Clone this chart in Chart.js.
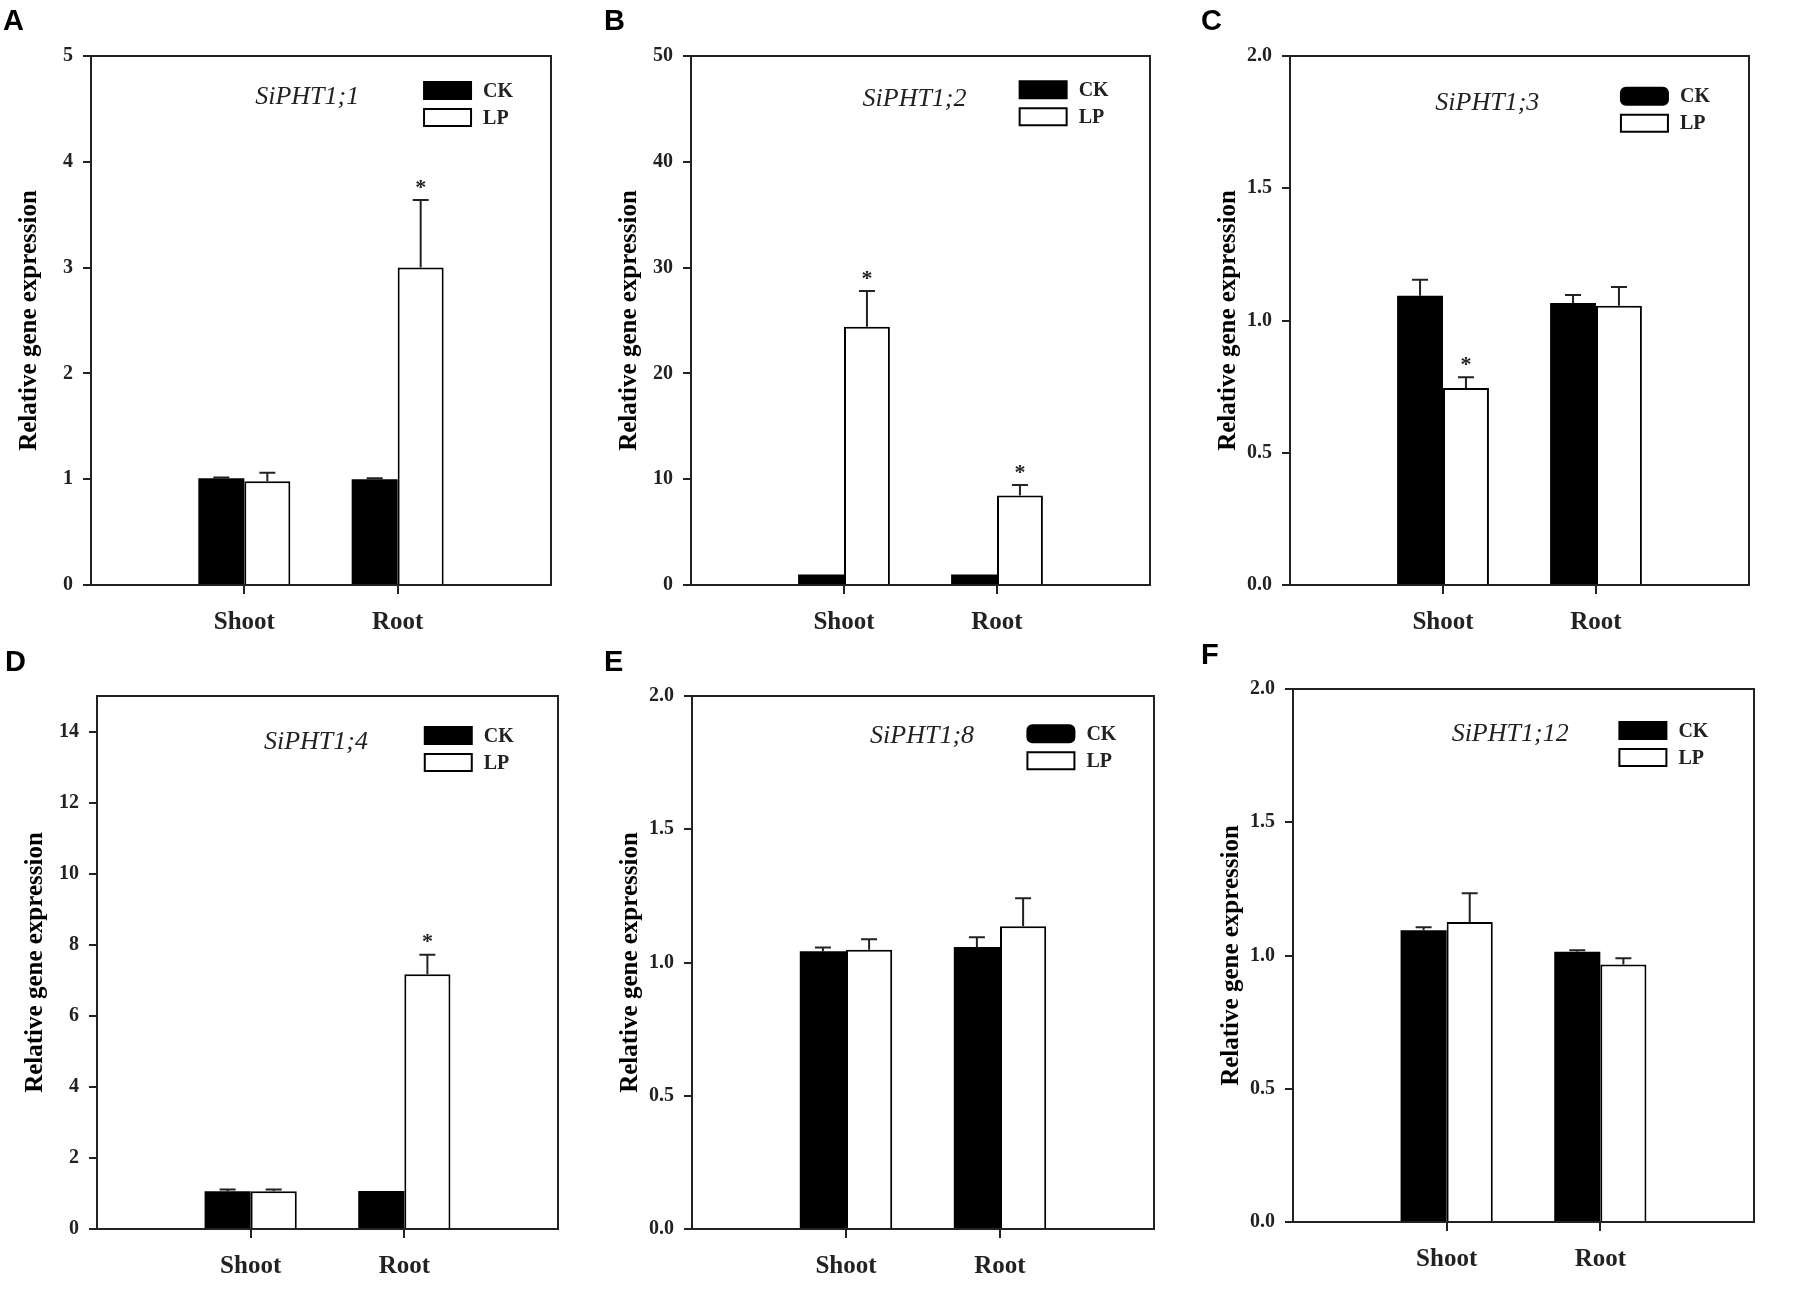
<!DOCTYPE html>
<html>
<head>
<meta charset="utf-8">
<script src="https://cdn.jsdelivr.net/npm/chart.js@4.4.1/dist/chart.umd.min.js"></script>
<style>
    html, body { margin: 0; padding: 0; background: #fff; }
    body { width: 1805px; height: 1308px; position: relative; overflow: hidden; }
    .panel { position: absolute; }
    .letter { position: absolute; font: bold 29px "Liberation Sans", Arial, sans-serif; color: #000; line-height: 1; z-index: 2; }
</style>
</head>
<body>
<script>
// DATA
const categories = ["Shoot", "Root"];
const seriesNames = ["CK", "LP"];
const panelLetters = ["A", "B", "C", "D", "E", "F"];
const geneNames = ["SiPHT1;1", "SiPHT1;2", "SiPHT1;3", "SiPHT1;4", "SiPHT1;8", "SiPHT1;12"];
const yAxisTitle = "Relative gene expression";

// [shoot, root] per panel
const ckMeans = [[1.01, 1.0], [1.0, 1.0], [1.094, 1.066], [1.06, 1.07], [1.042, 1.058], [1.095, 1.014]];
const ckErrors = [[0.005, 0.01], [0, 0], [0.06, 0.03], [0.05, 0], [0.014, 0.037], [0.011, 0.006]];
const lpMeans = [[0.98, 3.0], [24.4, 8.45], [0.745, 1.056], [1.06, 7.17], [1.048, 1.136], [1.126, 0.966]];
const lpErrors = [[0.08, 0.64], [3.4, 1.0], [0.04, 0.071], [0.05, 0.55], [0.039, 0.105], [0.108, 0.024]];
const lpStars = [[false, true], [true, true], [true, false], [false, true], [false, false], [false, false]];

const yMax = [5, 50, 2, 15, 2, 2];
const yTicks = [
    [0, 1, 2, 3, 4, 5],
    [0, 10, 20, 30, 40, 50],
    [0, 0.5, 1, 1.5, 2],
    [0, 2, 4, 6, 8, 10, 12, 14],
    [0, 0.5, 1, 1.5, 2],
    [0, 0.5, 1, 1.5, 2],
];
const yDecimals = [0, 0, 1, 0, 1, 1];
// DATA

// LAYOUT (plot boxes in page pixels)
const boxes = [
    { l: 91, t: 48, w: 462, h: 537 },
    { l: 691, t: 48, w: 461, h: 537 },
    { l: 1290, t: 48, w: 461, h: 537 },
    { l: 97, t: 688, w: 463, h: 541 },
    { l: 692, t: 688, w: 464, h: 541 },
    { l: 1293, t: 681, w: 463, h: 541 },
];
const letterPos = [[3, 6], [604, 6], [1201, 6], [5, 647], [604, 647], [1201, 640]];
const titleX = [0.47, 0.487, 0.43, 0.475, 0.498, 0.471];
const titleY = [0.077, 0.082, 0.089, 0.086, 0.076, 0.085];
const legendX = [0.724, 0.716, 0.721, 0.711, 0.726, 0.708];
const legendY = [0.065, 0.064, 0.076, 0.074, 0.071, 0.078];
const roundSwatch = [false, false, true, false, true, false];

const Y_AXIS_W = 76;
const X_AXIS_H = 78;
const PAD_TOP = 14;
const PAD_RIGHT = 12;
const INK = "#222";
const SERIF = "'Liberation Serif', 'Times New Roman', serif";

// FRAME, ERROR BARS, TITLE AND LEGEND
const decorPlugin = {
    id: "decor",
    afterDatasetsDraw(chart) {
        const ctx = chart.ctx;
        const yScale = chart.scales.y;
        ctx.save();
        ctx.strokeStyle = INK;
        ctx.fillStyle = INK;
        ctx.lineWidth = 2;
        chart.data.datasets.forEach(function (ds, di) {
            const meta = chart.getDatasetMeta(di);
            meta.data.forEach(function (bar, j) {
                if (ds.data[j] == null || !ds.errors[j]) return;
                const yEnd = yScale.getPixelForValue(ds.data[j] + ds.errors[j]);
                ctx.beginPath();
                ctx.moveTo(bar.x, bar.y);
                ctx.lineTo(bar.x, yEnd);
                ctx.moveTo(bar.x - 8, yEnd);
                ctx.lineTo(bar.x + 8, yEnd);
                ctx.stroke();
                if (ds.stars && ds.stars[j]) {
                    ctx.font = "bold 22px " + SERIF;
                    ctx.textAlign = "center";
                    ctx.textBaseline = "middle";
                    ctx.fillText("*", bar.x, yEnd - 12);
                }
            });
        });
        ctx.restore();
    },
    afterDraw(chart) {
        const ctx = chart.ctx;
        const a = chart.chartArea;
        const i = chart.options.panelIndex;
        const w = a.right - a.left;
        const h = a.bottom - a.top;
        ctx.save();
        ctx.strokeStyle = INK;
        ctx.lineWidth = 2;
        ctx.strokeRect(a.left, a.top, w, h);

        // gene name
        ctx.fillStyle = INK;
        ctx.font = "italic 26px " + SERIF;
        ctx.textAlign = "center";
        ctx.textBaseline = "middle";
        ctx.fillText(geneNames[i], a.left + titleX[i] * w, a.top + titleY[i] * h);

        // legend
        const sx = a.left + legendX[i] * w;
        const sw = 47, sh = 17;
        seriesNames.forEach(function (name, k) {
            const cy = a.top + legendY[i] * h + k * 27;
            ctx.beginPath();
            if (roundSwatch[i] && k === 0) {
                ctx.roundRect(sx, cy - sh / 2, sw, sh, 5);
            } else {
                ctx.rect(sx, cy - sh / 2, sw, sh);
            }
            ctx.fillStyle = k === 0 ? "#000" : "#fff";
            ctx.fill();
            ctx.strokeStyle = "#000";
            ctx.lineWidth = 2;
            ctx.stroke();
            ctx.fillStyle = INK;
            ctx.font = "bold 20px " + SERIF;
            ctx.textAlign = "left";
            ctx.textBaseline = "middle";
            ctx.fillText(name, sx + sw + 12, cy + 1);
        });
        ctx.restore();
    },
};

function padRow(row) {
    return [null].concat(row, [null]);
}

function makePanel(i) {
    const box = boxes[i];
    const wrap = document.createElement("div");
    wrap.className = "panel";
    wrap.style.left = box.l - Y_AXIS_W + "px";
    wrap.style.top = box.t - PAD_TOP + "px";
    wrap.style.width = Y_AXIS_W + box.w + PAD_RIGHT + "px";
    wrap.style.height = PAD_TOP + box.h + X_AXIS_H + "px";
    const canvas = document.createElement("canvas");
    wrap.appendChild(canvas);
    document.body.appendChild(wrap);

    const letter = document.createElement("div");
    letter.className = "letter";
    letter.textContent = panelLetters[i];
    letter.style.left = letterPos[i][0] + "px";
    letter.style.top = letterPos[i][1] + "px";
    document.body.appendChild(letter);

    new Chart(canvas, {
        type: "bar",
        data: {
            labels: [""].concat(categories, [""]),
            datasets: [
                {
                    label: seriesNames[0],
                    data: padRow(ckMeans[i]),
                    errors: padRow(ckErrors[i]),
                    backgroundColor: "#000",
                    borderColor: "#000",
                    borderWidth: 0,
                },
                {
                    label: seriesNames[1],
                    data: padRow(lpMeans[i]),
                    errors: padRow(lpErrors[i]),
                    stars: padRow(lpStars[i]),
                    backgroundColor: "#fff",
                    borderColor: "#000",
                    borderWidth: 2,
                },
            ],
        },
        options: {
            panelIndex: i,
            responsive: true,
            maintainAspectRatio: false,
            animation: false,
            devicePixelRatio: 1,
            layout: { padding: { top: PAD_TOP, right: PAD_RIGHT, left: 0, bottom: 0 } },
            datasets: { bar: { barPercentage: 1, categoryPercentage: 0.6 } },
            plugins: { legend: { display: false }, tooltip: { enabled: false } },
            scales: {
                x: {
                    offset: false,
                    border: { display: false },
                    grid: {
                        offset: false,
                        drawOnChartArea: false,
                        drawTicks: true,
                        tickLength: 9,
                        lineWidth: 2,
                        color: function (c) {
                            return c.index === 1 || c.index === 2 ? INK : "rgba(0,0,0,0)";
                        },
                    },
                    ticks: {
                        autoSkip: false,
                        maxRotation: 0,
                        padding: 14,
                        color: INK,
                        font: { family: SERIF, size: 25, weight: "bold" },
                    },
                    afterFit: function (s) {
                        s.height = X_AXIS_H;
                    },
                },
                y: {
                    min: 0,
                    max: yMax[i],
                    border: { display: false },
                    grid: { drawOnChartArea: false, drawTicks: true, tickLength: 8, lineWidth: 2, color: INK },
                    afterBuildTicks: function (s) {
                        s.ticks = yTicks[i].map(function (v) {
                            return { value: v };
                        });
                    },
                    ticks: {
                        padding: 10,
                        color: INK,
                        font: { family: SERIF, size: 20, weight: "bold" },
                        callback: function (v) {
                            return Number(v).toFixed(yDecimals[i]);
                        },
                    },
                    title: {
                        display: true,
                        text: yAxisTitle,
                        color: "#000",
                        padding: 0,
                        font: { family: SERIF, size: 25, weight: "bold" },
                    },
                    afterFit: function (s) {
                        s.width = Y_AXIS_W;
                    },
                },
            },
        },
        plugins: [decorPlugin],
    });
}

for (let i = 0; i < boxes.length; i++) {
    makePanel(i);
}
</script>
</body>
</html>
